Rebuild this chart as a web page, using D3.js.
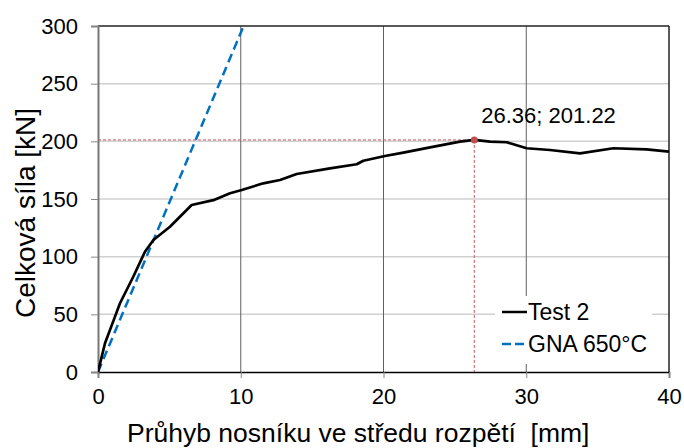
<!DOCTYPE html>
<html>
<head>
<meta charset="utf-8">
<script src="https://d3js.org/d3.v7.min.js"></script>
<style>
body { margin: 0; background: #fff; }
text { font-family: "Liberation Sans", Arial, sans-serif; fill: #000; }
</style>
</head>
<body>
<svg id="chart"></svg>
<script>
// data
var testX = [0, 0.49, 1.19, 1.54, 2.47, 3.29, 3.88, 5.04, 6.56, 8.08, 9.25, 10.07, 11.58, 12.75, 13.92, 16.25, 18.12, 18.59, 20.1, 21.39, 23.26, 25.36, 26.36, 27.46, 28.63, 30.03, 31.66, 33.77, 36.1, 38.43, 40];
var testY = [0, 24.9, 48, 59.6, 82.6, 104.3, 114.5, 126, 144.8, 149, 155, 157.8, 163.6, 166.5, 171.7, 176.6, 180.1, 183.2, 187.3, 190.2, 194.8, 199.7, 201.22, 199.7, 199.2, 194, 192.5, 189.6, 194, 193, 191];
var gnaX = [0, 10.2];
var gnaY = [0, 300];
var peak = [26.36, 201.22];
var xTicks = [0, 10, 20, 30, 40];
var yTicks = [0, 50, 100, 150, 200, 250, 300];
var seriesNames = ['Test 2', 'GNA 650\u00B0C'];

var W = 684, H = 448;
var m = {left: 98, right: 15, top: 26, bottom: 76};

var svg = d3.select('#chart').attr('width', W).attr('height', H);

var x = d3.scaleLinear().domain([0, 40]).range([m.left, W - m.right]);
var y = d3.scaleLinear().domain([0, 300]).range([H - m.bottom, m.top]);

svg.append('clipPath').attr('id', 'plotclip')
    .append('rect')
    .attr('x', m.left).attr('y', m.top)
    .attr('width', x(40) - m.left).attr('height', y(0) - m.top);

// horizontal grid
svg.append('g').selectAll('line')
    .data(yTicks.filter(function (d) { return d > 0 && d < 300; }))
    .enter().append('line')
    .attr('x1', x(0)).attr('x2', x(40))
    .attr('y1', function (d) { return y(d); }).attr('y2', function (d) { return y(d); })
    .style('stroke', '#d0d0d0').style('stroke-width', 1.5);

// vertical grid
svg.append('g').selectAll('line')
    .data(xTicks.filter(function (d) { return d > 0 && d < 40; }))
    .enter().append('line')
    .attr('y1', y(0)).attr('y2', y(300))
    .attr('x1', function (d) { return x(d); }).attr('x2', function (d) { return x(d); })
    .style('stroke', '#606060').style('stroke-width', 1);

// frame
svg.append('line').attr('x1', x(0)).attr('x2', x(40)).attr('y1', y(300)).attr('y2', y(300))
    .style('stroke', '#222').style('stroke-width', 1.5);
svg.append('line').attr('x1', x(40)).attr('x2', x(40)).attr('y1', y(0)).attr('y2', y(300))
    .style('stroke', '#222').style('stroke-width', 1.5);

// axes
var xAxis = svg.append('g')
    .attr('transform', 'translate(0,' + y(0) + ')')
    .call(d3.axisBottom(x).tickValues(xTicks).tickSize(6).tickPadding(10));
var yAxis = svg.append('g')
    .attr('transform', 'translate(' + x(0) + ',0)')
    .call(d3.axisLeft(y).tickValues(yTicks).tickSize(7).tickPadding(13));

xAxis.select('.domain').style('stroke', '#000').style('stroke-width', 1.5);
yAxis.select('.domain').style('stroke', '#777').style('stroke-width', 2);
xAxis.selectAll('.tick line').style('stroke', '#888');
yAxis.selectAll('.tick line').style('stroke', '#888');
svg.selectAll('.tick text')
    .style('font-family', '"Liberation Sans", Arial, sans-serif')
    .style('font-size', '22px').style('fill', '#000');

// peak guides
svg.append('line')
    .attr('x1', x(0)).attr('x2', x(peak[0]))
    .attr('y1', y(peak[1])).attr('y2', y(peak[1]))
    .style('stroke', '#c9595a').style('stroke-width', 1).style('stroke-dasharray', '3,2');
svg.append('line')
    .attr('x1', x(peak[0])).attr('x2', x(peak[0]))
    .attr('y1', y(peak[1])).attr('y2', y(0))
    .style('stroke', '#c9595a').style('stroke-width', 1).style('stroke-dasharray', '3,2');

var line = d3.line()
    .x(function (d) { return x(d[0]); })
    .y(function (d) { return y(d[1]); });

var plot = svg.append('g').attr('clip-path', 'url(#plotclip)');

plot.append('path')
    .datum(gnaX.map(function (v, i) { return [v, gnaY[i]]; }))
    .attr('d', line)
    .style('fill', 'none').style('stroke', '#0070c0')
    .style('stroke-width', 2.5).style('stroke-dasharray', '9,5');

plot.append('path')
    .datum(testX.map(function (v, i) { return [v, testY[i]]; }))
    .attr('d', line)
    .style('fill', 'none').style('stroke', '#000')
    .style('stroke-width', 2.7).style('stroke-linejoin', 'round');

svg.append('circle')
    .attr('cx', x(peak[0])).attr('cy', y(peak[1])).attr('r', 3.5)
    .style('fill', '#c0504d');

svg.append('text')
    .attr('x', x(peak[0]) + 7).attr('y', 123)
    .style('font-size', '22px')
    .text(peak[0].toFixed(2) + '; ' + peak[1].toFixed(2));

// legend
var lg = svg.append('g');
lg.append('rect').attr('x', 495).attr('y', 296).attr('width', 157).attr('height', 68)
    .style('fill', '#fff');
var lrow = lg.selectAll('g.row').data(seriesNames).enter().append('g')
    .attr('transform', function (d, i) { return 'translate(502,' + (312 + i * 32) + ')'; });
lrow.append('line')
    .attr('x1', 0).attr('x2', 25).attr('y1', 0).attr('y2', 0)
    .style('stroke', function (d, i) { return i ? '#0070c0' : '#000'; })
    .style('stroke-width', 2.5)
    .style('stroke-dasharray', function (d, i) { return i ? '9,4' : null; });
lrow.append('text')
    .attr('x', 26).attr('y', 8)
    .style('font-size', '23px')
    .text(function (d) { return d; });

// axis titles
svg.append('text')
    .attr('x', 127).attr('y', 442)
    .style('font-size', '26.5px')
    .style('white-space', 'pre')
    .text('Pr\u016Fhyb nosn\u00EDku ve st\u0159edu rozp\u011Bt\u00ED  [mm]');

svg.append('text')
    .attr('transform', 'translate(35,318) rotate(-90)')
    .style('font-size', '28px')
    .text('Celkov\u00E1 s\u00EDla [kN]');
</script>
</body>
</html>
